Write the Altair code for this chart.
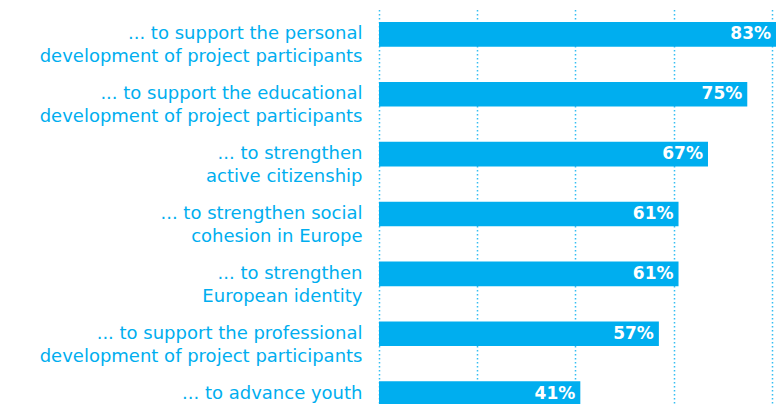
import altair as alt
import pandas as pd

categories = [
    "... to support the personal|development of project participants",
    "... to support the educational|development of project participants",
    "... to strengthen|active citizenship",
    "... to strengthen social|cohesion in Europe",
    "... to strengthen|European identity",
    "... to support the professional|development of project participants",
    "... to advance youth|policy cooperation",
]
values = [83, 75, 67, 61, 61, 57, 41]
labels = ["83%", "75%", "67%", "61%", "61%", "57%", "41%"]

df = pd.DataFrame({"cat": categories, "val": values, "lab": labels})

BLUE = "#00aeef"

y_enc = alt.Y(
    "cat:N",
    sort=None,
    title=None,
    scale=alt.Scale(paddingInner=0.587, paddingOuter=0.284),
    axis=alt.Axis(
        labelExpr="split(datum.label, '|')",
        labelFont="DejaVu Sans",
        labelFontSize=18,
        labelColor=BLUE,
        labelLineHeight=23,
        labelPadding=17,
        labelLimit=0,
        ticks=False,
        domain=False,
        grid=False,
        minExtent=371,
        maxExtent=371,
    ),
)

x_enc = alt.X(
    "val:Q",
    title=None,
    scale=alt.Scale(domain=[0, 80.85], nice=False, clamp=True),
    axis=alt.Axis(
        values=[0, 20, 40, 60, 80],
        labels=False,
        ticks=False,
        domain=False,
        grid=True,
        gridColor=BLUE,
        gridDash=[1.5, 2.5],
        gridWidth=1.5,
        gridOpacity=0.8,
    ),
)

bars = alt.Chart(df).mark_bar(color=BLUE).encode(x=x_enc, y=y_enc)
text = alt.Chart(df).mark_text(
    align="right", baseline="middle", dx=-5, color="white",
    font="DejaVu Sans", fontWeight="bold", fontSize=17,
).encode(x="val:Q", y=alt.Y("cat:N", sort=None), text="lab:N")

chart = (bars + text).properties(
    width=397, height=418,
    padding={"top": -3, "left": 0, "right": 0, "bottom": -22},
).configure_view(stroke=None)

chart.save("out.html", embed_options={"renderer": "svg", "actions": False})
